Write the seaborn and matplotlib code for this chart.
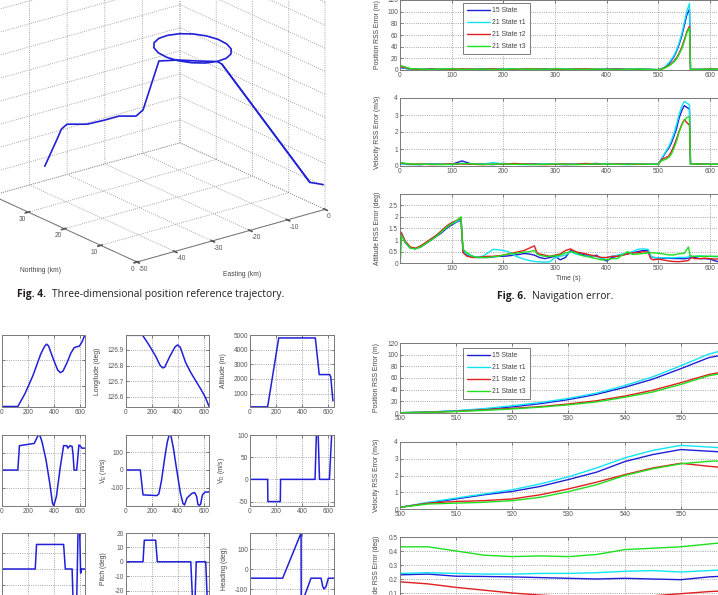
import matplotlib
matplotlib.use('Agg')
import numpy as np
import matplotlib.pyplot as plt
import seaborn as sns
from matplotlib.ticker import FormatStrFormatter
from mpl_toolkits.mplot3d import proj3d

W, H = 718, 595

# ---- Fig. 4: 3D reference trajectory (km, km, m)
traj_east = [-0.5, -1.9, -4.5,
             -4.35, -1.76, 0.60, 2.44, 3.55, 3.77, 3.10, 1.60, -0.53, -3.05, -5.64, -8.0,
             -9.84, -10.95, -11.17, -10.5, -9.0, -6.87, -4.35,
             -7.2, -10.1, -13.8, -15.8, -16.7, -19.5, -23.4, -27.7, -31.0, -32.0, -32.7, -34.9]
traj_north = [0.0, 2.2, 23.8,
              25.23, 25.46, 26.56, 28.40, 30.76, 33.35, 35.87, 38.0, 39.5, 40.17, 39.95, 38.84,
              37.0, 34.64, 32.05, 29.53, 27.4, 25.9, 25.23,
              27.3, 29.75, 31.5, 33.8, 34.8, 36.6, 36.6, 36.9, 39.0, 39.5, 40.0, 41.1]
traj_alt = [1100, 1100, 4800,
            4800, 4800, 4800, 4800, 4800, 4800, 4800, 4800, 4800, 4800, 4800, 4800,
            4800, 4800, 4800, 4800, 4800, 4800, 4800,
            4800, 4800, 4800, 2600, 2300, 2300, 2300, 2300, 2300, 2100, 1650, 500]

# ---- trajectory panels
t_lat = [0, 125, 180, 240, 300, 330, 345, 360, 400, 430, 450, 470, 500, 530, 555, 575, 595, 615, 635]
lat = [37.419, 37.419, 37.47, 37.54, 37.625, 37.656, 37.664, 37.657, 37.6, 37.562, 37.552, 37.558,
       37.59, 37.628, 37.65, 37.654, 37.656, 37.672, 37.697]
t_lon = [0, 130, 180, 230, 265, 285, 300, 340, 380, 400, 420, 460, 500, 540, 580, 610, 640]
lon = [126.993, 126.993, 126.93, 126.86, 126.80, 126.785, 126.79, 126.86, 126.92, 126.932, 126.915,
       126.82, 126.755, 126.70, 126.645, 126.60, 126.54]
t_alt = [0, 135, 220, 500, 530, 610, 618, 635]
alt = [100, 100, 4800, 4800, 2300, 2300, 2150, 500]
t_vn = [0, 125, 137, 250, 265, 280, 295, 310, 340, 370, 390, 400, 420, 450, 475, 500, 507, 515, 525,
        540, 548, 555, 575, 582, 592, 605, 615, 640]
vn = [0, 0, 139, 152, 175, 198, 195, 160, 60, -80, -190, -203, -150, 20, 139, 139, 125, 132, 139,
      135, 80, 0, 0, 60, 143, 135, 125, 125]
t_ve = [0, 112, 133, 240, 255, 275, 300, 320, 334, 347, 365, 390, 420, 440, 452, 470, 490, 510, 530,
        545, 555, 565, 575, 590, 610, 630, 645]
ve = [0, 0, -141, -145, -135, -60, 70, 160, 198, 195, 130, 10, -130, -190, -198, -160, -145, -132,
      -128, -150, -195, -200, -195, -140, -125, -125, -122]
t_vd = [0, 135, 137, 232, 234, 498, 508, 522, 532, 608, 625, 640]
vd = [0, 0, -50, -50, 0, 0, 100, 100, 0, 0, 100, 100]
t_roll = [0, 258, 268, 475, 488, 540, 550, 562, 575, 585, 592, 598, 605, 612, 640]
roll = [0, 0, 30, 30, 0, 0, -55, -60, -40, 45, 55, 45, -5, 0, 0]
t_pitch = [0, 133, 143, 230, 243, 500, 510, 525, 535, 542, 615, 628, 645]
pitch = [0, 0, 15, 15, 0, 0, -20, -45, -20, 0, 0, -30, -45]
t_head = [0, 250, 391, 392, 467, 544, 557, 567, 582, 600, 640]
head = [-46, -46, 180, -180, -46, -46, -88, -100, -88, -46, -46]

# ---- Fig. 6 / 7 navigation errors
series_names = ['15 State', '21 State \u03c41', '21 State \u03c42', '21 State \u03c43']
series_colors = ['#1e1ed8', '#10e4f4', '#e01e1e', '#1ee01e']

t_pre = [0, 20, 40, 60, 80, 100, 120, 140, 160, 180, 200, 220, 240, 260, 280, 300, 320, 340, 360,
         380, 400, 420, 440, 460, 480]
pos_15_pre = [4, 1.5, 1, 2, 1, 1.5, 1, 1, 2, 1.5, 1, 1, 1.5, 1, 2, 1, 1, 1.5, 1, 1, 1.5, 2, 1, 1.5, 1]
pos_t1_pre = [5, 1, 1.5, 1, 2, 1, 1, 1.5, 1, 1, 2, 1.5, 1, 1, 1, 1.5, 2, 1, 1, 1.5, 1, 1, 1.5, 2, 1.5]
pos_t2_pre = [6, 2, 1, 1.5, 1, 1, 2, 1.5, 1, 2, 1, 1, 1.5, 2, 1, 1, 1, 1.5, 2, 1, 1, 1.5, 1, 1, 1]
pos_t3_pre = [8, 2.5, 1.5, 1, 1.5, 2, 1, 1, 1.5, 1, 1, 2, 1, 1.5, 1, 2, 1.5, 1, 1, 1.5, 1, 1, 1, 1.5, 1]
vel_15_pre = [0.15, 0.1, 0.08, 0.12, 0.1, 0.1, 0.3, 0.1, 0.12, 0.08, 0.15, 0.1, 0.1, 0.12, 0.1, 0.1,
              0.08, 0.1, 0.12, 0.15, 0.1, 0.1, 0.12, 0.1, 0.1]
vel_t1_pre = [0.12, 0.08, 0.1, 0.1, 0.12, 0.08, 0.15, 0.1, 0.1, 0.2, 0.12, 0.1, 0.08, 0.1, 0.12, 0.1,
              0.1, 0.12, 0.1, 0.1, 0.15, 0.1, 0.08, 0.1, 0.12]
vel_t2_pre = [0.18, 0.1, 0.12, 0.08, 0.1, 0.12, 0.12, 0.1, 0.08, 0.1, 0.1, 0.15, 0.12, 0.1, 0.08, 0.1,
              0.12, 0.1, 0.15, 0.1, 0.1, 0.12, 0.1, 0.1, 0.1]
vel_t3_pre = [0.2, 0.12, 0.1, 0.1, 0.08, 0.1, 0.15, 0.12, 0.1, 0.1, 0.12, 0.1, 0.1, 0.08, 0.1, 0.12,
              0.1, 0.08, 0.1, 0.12, 0.1, 0.1, 0.1, 0.12, 0.1]

t7 = [500, 505, 510, 515, 520, 525, 530, 535, 540, 545, 550, 555, 560]
pos_15 = [0.5, 1.5, 3.5, 6.5, 10.5, 16, 23, 32, 44, 58, 76, 95, 104]
pos_t1 = [0.5, 1.7, 4, 7.5, 12.5, 18, 25, 34, 47, 62, 81, 101, 114]
pos_t2 = [0.5, 1.3, 3, 5.5, 8, 11, 15.5, 21, 29, 39, 52, 66, 75]
pos_t3 = [0.5, 1, 2.5, 4.5, 7, 10, 14, 19, 27, 36, 49, 64, 72]
vel_15 = [0.1, 0.35, 0.6, 0.85, 1.05, 1.35, 1.76, 2.2, 2.83, 3.25, 3.55, 3.45, 3.35]
vel_t1 = [0.1, 0.4, 0.65, 0.9, 1.15, 1.5, 1.92, 2.45, 3.05, 3.5, 3.8, 3.7, 3.6]
vel_t2 = [0.1, 0.35, 0.45, 0.5, 0.6, 0.85, 1.2, 1.6, 2.05, 2.45, 2.73, 2.55, 2.4]
vel_t3 = [0.1, 0.3, 0.35, 0.4, 0.5, 0.7, 1.04, 1.45, 2.0, 2.4, 2.7, 2.85, 2.9]
att7_15 = [0.23, 0.235, 0.22, 0.218, 0.215, 0.21, 0.205, 0.2, 0.205, 0.2, 0.195, 0.215, 0.225]
att7_t1 = [0.24, 0.245, 0.24, 0.235, 0.235, 0.24, 0.24, 0.245, 0.255, 0.26, 0.25, 0.26, 0.27]
att7_t2 = [0.18, 0.165, 0.14, 0.12, 0.10, 0.085, 0.075, 0.07, 0.07, 0.08, 0.095, 0.11, 0.12]
att7_t3 = [0.43, 0.43, 0.40, 0.37, 0.36, 0.365, 0.36, 0.375, 0.41, 0.42, 0.43, 0.45, 0.47]

t_post = [562, 580, 600, 620, 640, 650]
pos_post = [1, 1, 1.5, 1, 1, 1]
vel_post = [0.1, 0.12, 0.1, 0.1, 0.12, 0.1]

t_att = [1, 3, 10, 20, 30, 40, 50, 60, 70, 80, 90, 100, 110, 118, 122,
         130, 140, 150, 160, 170, 180, 190, 200, 210, 220, 230, 240, 250, 260, 265,
         270, 280, 290, 300, 310, 320, 330, 340, 350, 360, 370, 380, 390, 400, 410, 420, 430, 440,
         450, 460, 470, 480, 485, 490, 500, 510, 520, 530, 540, 550, 558, 561, 565,
         570, 580, 590, 600, 610, 620, 630, 640, 650]
att_15 = [1.3, 1.25, 0.9, 0.65, 0.63, 0.7, 0.85, 1.0, 1.15, 1.3, 1.5, 1.65, 1.78, 1.85, 0.5,
          0.35, 0.3, 0.25, 0.25, 0.25, 0.28, 0.3, 0.3, 0.32, 0.35, 0.38, 0.42, 0.4, 0.35, 0.3,
          0.25, 0.2, 0.25, 0.3, 0.15, 0.25, 0.55, 0.45, 0.4, 0.35, 0.3, 0.35, 0.2, 0.1, 0.25, 0.3, 0.35, 0.4,
          0.45, 0.5, 0.55, 0.55, 0.3, 0.25, 0.23, 0.22, 0.215, 0.205, 0.205, 0.195, 0.22, 0.25, 0.25,
          0.25, 0.2, 0.2, 0.18, 0.1, 0.05, 0.2, 0.25, 0.25]
att_t1 = [1.35, 1.3, 0.95, 0.68, 0.63, 0.72, 0.88, 1.05, 1.2, 1.35, 1.55, 1.7, 1.8, 1.9, 0.55,
          0.38, 0.3, 0.28, 0.3, 0.45, 0.6, 0.58, 0.55, 0.5, 0.35, 0.25, 0.18, 0.12, 0.08, 0.07,
          0.06, 0.05, 0.07, 0.25, 0.3, 0.35, 0.5, 0.4, 0.35, 0.3, 0.32, 0.3, 0.2, 0.25, 0.3, 0.35, 0.4, 0.45,
          0.5, 0.6, 0.62, 0.6, 0.32, 0.25, 0.24, 0.24, 0.235, 0.24, 0.255, 0.25, 0.27, 0.3, 0.3,
          0.3, 0.32, 0.3, 0.3, 0.28, 0.3, 0.3, 0.3, 0.3]
att_t2 = [1.35, 1.3, 0.95, 0.7, 0.65, 0.75, 0.9, 1.05, 1.2, 1.4, 1.6, 1.75, 1.85, 1.95, 0.45,
          0.3, 0.25, 0.25, 0.28, 0.3, 0.3, 0.32, 0.35, 0.4, 0.45, 0.5, 0.55, 0.65, 0.75, 0.45,
          0.4, 0.35, 0.3, 0.35, 0.4, 0.55, 0.62, 0.5, 0.45, 0.4, 0.35, 0.3, 0.25, 0.25, 0.3, 0.3, 0.35, 0.4,
          0.45, 0.45, 0.5, 0.48, 0.2, 0.15, 0.18, 0.14, 0.1, 0.075, 0.07, 0.095, 0.12, 0.2, 0.25,
          0.2, 0.2, 0.22, 0.2, 0.18, 0.2, 0.25, 0.3, 0.3]
att_t3 = [0.2, 1.2, 0.9, 0.65, 0.62, 0.7, 0.85, 1.0, 1.15, 1.35, 1.55, 1.7, 1.85, 2.0, 0.6,
          0.45, 0.3, 0.25, 0.25, 0.25, 0.28, 0.3, 0.35, 0.4, 0.42, 0.45, 0.48, 0.5, 0.55, 0.4,
          0.35, 0.3, 0.3, 0.32, 0.35, 0.45, 0.5, 0.45, 0.35, 0.3, 0.25, 0.2, 0.15, 0.15, 0.2, 0.2, 0.35, 0.5,
          0.38, 0.4, 0.42, 0.45, 0.45, 0.45, 0.43, 0.4, 0.36, 0.36, 0.41, 0.43, 0.7, 0.35, 0.3,
          0.3, 0.3, 0.3, 0.3, 0.3, 0.3, 0.3, 0.3, 0.3]

sns.set_theme(style='ticks')
plt.rcParams['font.family'] = ['Liberation Sans', 'DejaVu Sans']
plt.rcParams.update({
    'axes.unicode_minus': False,
    'mathtext.default': 'regular',
    'grid.linestyle': ':',
    'grid.color': '#8a8a8a',
    'grid.linewidth': 0.6,
    'axes.edgecolor': '#7a7a7a',
    'axes.linewidth': 0.7,
})
TICK_FS = 4.7
LABEL_FS = 4.9
BLUE = '#2020d8'

fig = plt.figure(figsize=(W / 100, H / 100), dpi=100)


def px_axes(x0, y0, x1, y1, **kw):
    # pixel box (top-left origin) -> figure fraction
    return fig.add_axes([x0 / W, 1 - y1 / H, (x1 - x0) / W, (y1 - y0) / H], **kw)


def matlab_style(ax):
    ax.grid(True, linestyle=':', color='#8a8a8a', linewidth=0.6)
    for s in ax.spines.values():
        s.set_visible(True)
        s.set_color('#7a7a7a')
        s.set_linewidth(0.7)
    ax.tick_params(direction='in', length=2, width=0.5, labelsize=TICK_FS, colors='#555555',
                   pad=1.5, top=True, right=True)
    ax.tick_params(labeltop=False, labelright=False)


def corner_px(ax, e, n, z):
    xs, ys, _ = proj3d.proj_transform(np.array([e]), np.array([n]), np.array([z]), ax.get_proj())
    px, py = ax.transData.transform((xs[0], ys[0]))
    return px, H - py


# ---------------- trajectory panels ----------------
col_x = [(1.5, 85.2), (125.7, 209.0), (250.0, 333.6)]
row_y = [(335, 407), (435, 506), (533, 605)]
panels = [
    (0, 0, t_lat, lat, (37.417, 37.70), [37.5, 37.6, 37.7], 'Latitude (deg)', -0.28),
    (0, 1, t_lon, lon, (126.535, 126.995), [126.6, 126.7, 126.8, 126.9], 'Longitude (deg)', -0.30),
    (0, 2, t_alt, alt, (90, 5000), [1000, 2000, 3000, 4000, 5000], 'Altitude (m)', -0.28),
    (1, 0, t_vn, vn, (-205, 200), [-100, 0, 100], 'V$_N$ (m/s)', -0.20),
    (1, 1, t_ve, ve, (-204, 198), [-100, 0, 100], 'V$_E$ (m/s)', -0.195),
    (1, 2, t_vd, vd, (-60, 100), [-50, 0, 50, 100], 'V$_D$ (m/s)', -0.27),
    (2, 0, t_roll, roll, (-44, 44), [-40, -20, 0, 20], 'Roll (deg)', -0.23),
    (2, 1, t_pitch, pitch, (-30, 20), [-20, -10, 0, 10, 20], 'Pitch (deg)', -0.23),
    (2, 2, t_head, head, (-180, 180), [-100, 0, 100], 'Heading (deg)', -0.26),
]
for r, c, tt, yy, ylim, yticks, ylab, lx in panels:
    ax = px_axes(col_x[c][0], row_y[r][0], col_x[c][1], row_y[r][1])
    sns.lineplot(x=tt, y=yy, ax=ax, color=BLUE, linewidth=1.1, errorbar=None)
    matlab_style(ax)
    ax.set_xlim(0, 640)
    ax.set_xticks([0, 200, 400, 600])
    ax.set_ylim(*ylim)
    ax.set_yticks(yticks)
    ax.yaxis.set_major_formatter(FormatStrFormatter('%g'))
    ax.set_ylabel(ylab, fontsize=LABEL_FS, color='#444444')
    ax.yaxis.set_label_coords(lx, 0.5)
    ax.set_xlabel('')

# ---------------- Fig. 6 and Fig. 7 ----------------
t6 = np.r_[t_pre, t7, t_post]
pos6 = [np.r_[p, q, pos_post] for p, q in zip([pos_15_pre, pos_t1_pre, pos_t2_pre, pos_t3_pre],
                                              [pos_15, pos_t1, pos_t2, pos_t3])]
vel6 = [np.r_[p, q, vel_post] for p, q in zip([vel_15_pre, vel_t1_pre, vel_t2_pre, vel_t3_pre],
                                              [vel_15, vel_t1, vel_t2, vel_t3])]
att6 = [att_15, att_t1, att_t2, att_t3]


def error_panel(box, t, ys, ylim, yticks, ylab, xlim, xticks, legend_top=None):
    ax = px_axes(*box)
    for name, col, y in zip(series_names, series_colors, ys):
        sns.lineplot(x=t, y=y, ax=ax, color=col, linewidth=1.0, label=name, legend=False, errorbar=None)
    matlab_style(ax)
    ax.set_xlim(*xlim)
    ax.set_xticks(xticks)
    ax.set_ylim(*ylim)
    ax.set_yticks(yticks)
    ax.yaxis.set_major_formatter(FormatStrFormatter('%g'))
    ax.set_ylabel(ylab, fontsize=LABEL_FS, color='#444444')
    ax.yaxis.set_label_coords(-0.058, 0.5)
    ax.set_xlabel('')
    if legend_top is not None:
        leg = ax.legend(loc='upper left', bbox_to_anchor=(0.187, legend_top), fontsize=LABEL_FS,
                        handlelength=3.4, handletextpad=0.3, labelspacing=0.75, borderpad=0.6,
                        borderaxespad=0, fancybox=False, framealpha=1, edgecolor='#666666')
        leg.get_frame().set_linewidth(0.6)
        for txt in leg.get_texts():
            txt.set_color('#444444')
    return ax


xt6 = [0, 100, 200, 300, 400, 500, 600]
error_panel((400, 0, 736, 70), t6, pos6, (0, 120), range(0, 121, 20), 'Position RSS Error (m)',
            (0, 650), xt6, legend_top=0.957)
error_panel((400, 98, 736, 166), t6, vel6, (0, 4), range(0, 5), 'Velocity RSS Error (m/s)',
            (0, 650), xt6)
ax6c = error_panel((400, 193.5, 736, 263.3), t_att, att6, (0, 3), [0, 0.5, 1, 1.5, 2, 2.5],
                   'Attitude RSS Error (deg)', (0, 650), xt6[1:])
ax6c.set_xlabel('Time (s)', fontsize=LABEL_FS, color='#444444')
ax6c.xaxis.set_label_coords(0.5, -0.17)

xt7 = [500, 510, 520, 530, 540, 550, 560]
error_panel((400, 343, 737, 413), t7, [pos_15, pos_t1, pos_t2, pos_t3], (0, 120), range(0, 121, 20),
            'Position RSS Error (m)', (500, 560), xt7, legend_top=0.929)
error_panel((400, 442, 737, 509), t7, [vel_15, vel_t1, vel_t2, vel_t3], (0, 4), range(0, 5),
            'Velocity RSS Error (m/s)', (500, 560), xt7)
error_panel((400, 537, 737, 607), t7, [att7_15, att7_t1, att7_t2, att7_t3], (0, 0.5),
            [0, 0.1, 0.2, 0.3, 0.4, 0.5], 'Attitude RSS Error (deg)', (500, 560), xt7)

# ---------------- Fig. 4 (3D), added last so nothing is drawn over it ----------------
ax3 = fig.add_axes([-0.1, 0.35, 0.6, 0.6 * W / H], projection='3d')
ax3.set_zorder(3)
ax3.patch.set_alpha(0)
ax3.set_proj_type('ortho')
ax3.view_init(elev=21, azim=-128)
ax3.set_box_aspect((238, 235, 246))
# climb leg also drawn on its own, then the whole flight path
ax3.plot(traj_east[1:3], traj_north[1:3], traj_alt[1:3], color=BLUE, lw=1.2)
ax3.plot(traj_east, traj_north, traj_alt, color=BLUE, lw=1.2)
ax3.set_xlim(-50, 0)
ax3.set_ylim(0, 40)
ax3.set_zlim(0, 10000)
ax3.set_xticks(range(-50, 1, 10))
ax3.set_yticks(range(0, 41, 10))
ax3.set_zticks(range(0, 10001, 1000))
ax3.set_zticklabels([])
for lab in ax3.get_xticklabels():
    lab.set_ha('left')
for lab in ax3.get_yticklabels():
    lab.set_ha('right')
for axis in (ax3.xaxis, ax3.yaxis, ax3.zaxis):
    axis.set_pane_color((1, 1, 1, 0))
    axis.pane.set_edgecolor((1, 1, 1, 0))
    axis.line.set_color('#777777')
    axis.line.set_linewidth(0.7)
    axis._axinfo['grid'].update(color='#8a8a8a', linewidth=0.6, linestyle=':')
ax3.tick_params(labelsize=TICK_FS, colors='#555555', pad=-6)

# place the box so its front-bottom corner and easting edge match the page
fig.canvas.draw()
x0, y0 = corner_px(ax3, -50, 0, 0)
x1, y1 = corner_px(ax3, 0, 0, 0)
s = 188 / (x1 - x0)
l, b, w, h = ax3.get_position(original=True).bounds
ax3.set_position([l + w * (1 - s) / 2, b + h * (1 - s) / 2, w * s, h * s])
fig.canvas.draw()
x0, y0 = corner_px(ax3, -50, 0, 0)
l, b, w, h = ax3.get_position(original=True).bounds
ax3.set_position([l + (137 - x0) / W, b + (y0 - 262) / H, w, h])

fig.text(40 / W, 1 - 271 / H, 'Northing (km)', ha='center', va='center', fontsize=LABEL_FS, color='#444444')
fig.text(242 / W, 1 - 275 / H, 'Easting (km)', ha='center', va='center', fontsize=LABEL_FS, color='#444444')

# ---------------- captions ----------------
cap = dict(fontsize=7.4, va='center', color='#231f20', family=['Open Sans', 'DejaVu Sans'])
fig.text(17 / W, 1 - 295 / H, 'Fig. 4.', fontweight='bold', **cap)
fig.text(52 / W, 1 - 295 / H, 'Three-dimensional position reference trajectory.', **cap)
fig.text(497 / W, 1 - 297 / H, 'Fig. 6.', fontweight='bold', **cap)
fig.text(532 / W, 1 - 297 / H, 'Navigation error.', **cap)

fig.savefig('out.png', dpi=100)
print('Saved out.png')
